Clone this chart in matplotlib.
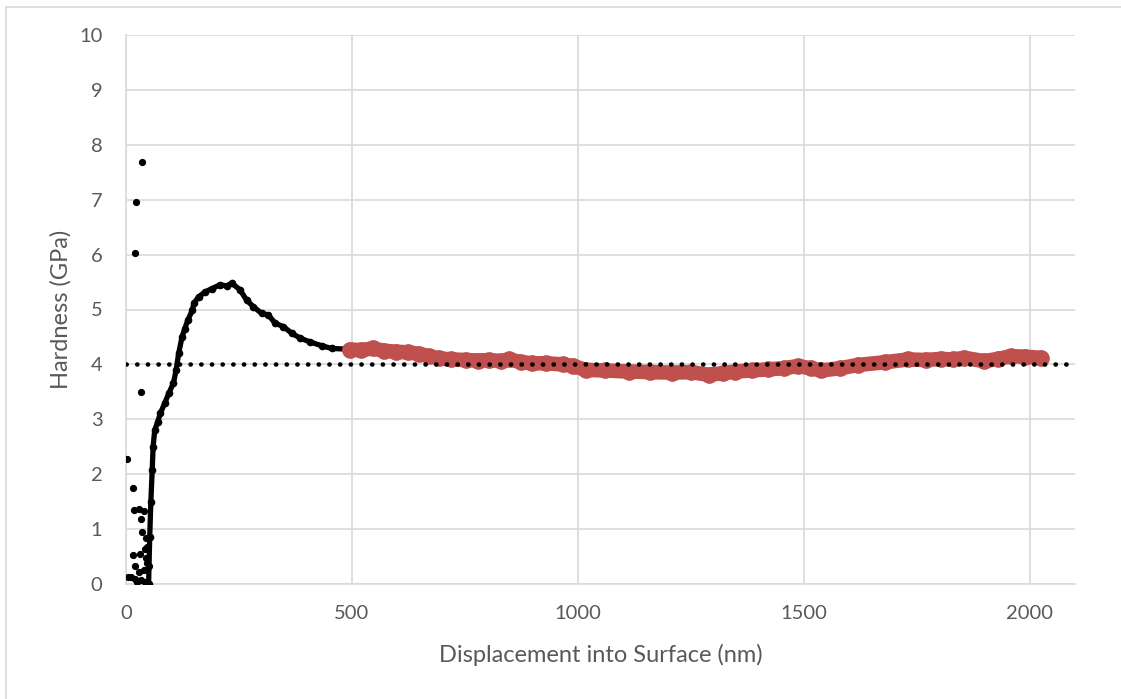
import numpy as np
import matplotlib.pyplot as plt
from matplotlib.lines import Line2D

# scattered noisy points at the start of the indent
noise_x = [3, 5, 10, 15, 16, 17, 20, 21, 21, 23, 25, 28, 28, 30, 33, 33, 34, 36, 36,
           39, 39, 41, 43, 44.5, 45, 47, 47, 49, 50]
noise_y = [2.28, 0.13, 0.13, 0.52, 1.74, 1.34, 6.03, 0.32, 0.10, 6.95, 0.04, 1.37, 0.22,
           0.55, 3.50, 1.18, 0.07, 7.68, 0.94, 1.33, 0.25, 0.63, 0.04, 0.83, 0.47, 0.68,
           0.38, 0.00, 0.32]

# main loading curve (black)
black_x = [50, 52.5, 55, 58, 60, 63.5, 70, 76, 85.5, 94.5, 105, 111, 116.5, 124, 130, 137,
           147, 150, 160.5, 175, 190, 208, 223, 234, 252, 267, 282, 300, 315, 330, 348,
           366.5, 385, 407, 433, 455, 484]
black_y = [0.0, 0.86, 1.5, 2.08, 2.5, 2.8, 2.95, 3.11, 3.29, 3.47, 3.66, 3.90, 4.20, 4.50,
           4.65, 4.81, 4.99, 5.11, 5.23, 5.32, 5.38, 5.45, 5.43, 5.48, 5.36, 5.17, 5.05,
           4.93, 4.90, 4.75, 4.69, 4.57, 4.48, 4.41, 4.34, 4.29, 4.28]

# region used for the average (red)
red_x = [495, 520, 546, 570, 598, 625, 649, 670, 693, 720, 752, 780, 804, 830, 848, 875,
         899, 930, 966, 990, 1017, 1060, 1112, 1160, 1208, 1250, 1289, 1320, 1348, 1385,
         1421, 1455, 1487, 1515, 1539, 1580, 1620, 1680, 1730, 1770, 1803, 1830, 1855,
         1899, 1930, 1958, 1990, 2024]
red_y = [4.27, 4.26, 4.29, 4.25, 4.23, 4.22, 4.19, 4.15, 4.11, 4.09, 4.08, 4.07, 4.08, 4.06,
         4.09, 4.04, 4.02, 4.02, 4.00, 3.97, 3.90, 3.89, 3.87, 3.86, 3.85, 3.86, 3.81, 3.84,
         3.87, 3.89, 3.91, 3.93, 3.97, 3.93, 3.89, 3.93, 3.99, 4.04, 4.09, 4.08, 4.10, 4.09,
         4.12, 4.06, 4.10, 4.15, 4.14, 4.12]

# trend line (mean hardness)
trend_x = [0, 2100]
trend_y = [4.01, 4.01]

plt.rcParams['font.family'] = ['Lato', 'DejaVu Sans']
grid_col = '#d9d9d9'
text_col = '#595959'

fig = plt.figure(figsize=(11.21, 6.99), dpi=100)
ax = fig.add_axes([126 / 1121, 1 - 584 / 699, 949 / 1121, 549 / 699])

ax.plot(black_x, black_y, color='black', lw=3.8, marker='o', ms=4.5,
        solid_joinstyle='round', solid_capstyle='round', zorder=3)
ax.plot(noise_x, noise_y, 'o', color='black', ms=4.2, zorder=3)
ax.plot(red_x, red_y, color='#c0504d', lw=10.5, marker='o', ms=11,
        solid_joinstyle='round', solid_capstyle='round', zorder=4)
ax.plot(trend_x, trend_y, color='black', lw=3.3, linestyle=(0, (0.05, 2.28)),
        dash_capstyle='round', zorder=5)

ax.set_xlim(0, 2100)
ax.set_ylim(0, 10)
ax.set_xticks([0, 500, 1000, 1500, 2000])
ax.set_yticks(range(0, 11))
ax.grid(True, color=grid_col, lw=1.2)
ax.set_axisbelow(True)
for s in ['top', 'right']:
    ax.spines[s].set_visible(False)
for s in ['left', 'bottom']:
    ax.spines[s].set_color(grid_col)
    ax.spines[s].set_linewidth(1.2)
ax.tick_params(length=0, labelsize=14.5, labelcolor=text_col)
ax.tick_params(axis='x', pad=15)
ax.tick_params(axis='y', pad=17)

ax.set_xlabel('Displacement into Surface (nm)', fontsize=17, color=text_col, labelpad=16)
ax.set_ylabel('Hardness (GPa)', fontsize=17, color=text_col, labelpad=5)

# chart area border
fig.add_artist(Line2D([6 / 1121, 6 / 1121], [0, 1 - 7 / 699], color=grid_col, lw=1.2))
fig.add_artist(Line2D([6 / 1121, 1], [1 - 7 / 699, 1 - 7 / 699], color=grid_col, lw=1.2))

fig.savefig('out.png', dpi=100)
